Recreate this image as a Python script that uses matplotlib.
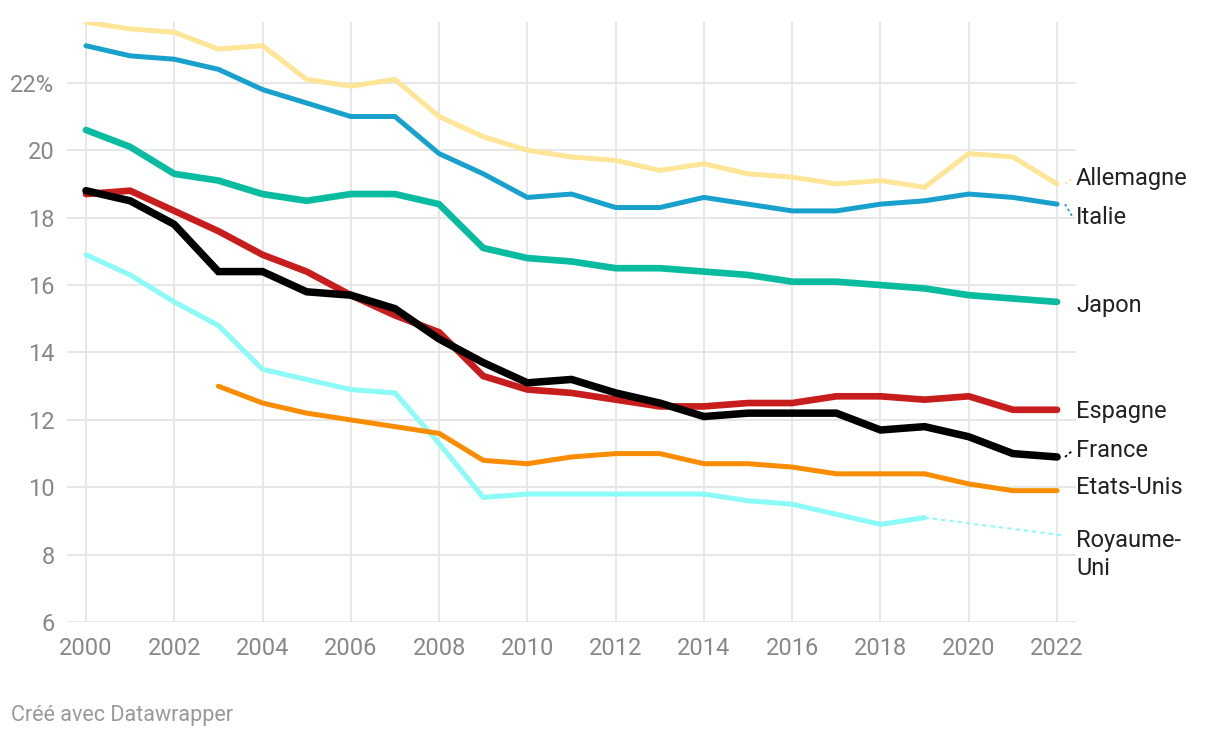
import numpy as np
import matplotlib
matplotlib.use("Agg")
import matplotlib.pyplot as plt

plt.rcParams['font.family'] = ['Roboto', 'DejaVu Sans']

years = list(range(2000, 2023))

allemagne = [23.8, 23.6, 23.5, 23.0, 23.1, 22.1, 21.9, 22.1, 21.0, 20.4, 20.0, 19.8,
             19.7, 19.4, 19.6, 19.3, 19.2, 19.0, 19.1, 18.9, 19.9, 19.8, 19.0]
italie = [23.1, 22.8, 22.7, 22.4, 21.8, 21.4, 21.0, 21.0, 19.9, 19.3, 18.6, 18.7,
          18.3, 18.3, 18.6, 18.4, 18.2, 18.2, 18.4, 18.5, 18.7, 18.6, 18.4]
japon = [20.6, 20.1, 19.3, 19.1, 18.7, 18.5, 18.7, 18.7, 18.4, 17.1, 16.8, 16.7,
         16.5, 16.5, 16.4, 16.3, 16.1, 16.1, 16.0, 15.9, 15.7, 15.6, 15.5]
espagne = [18.7, 18.8, 18.2, 17.6, 16.9, 16.4, 15.7, 15.1, 14.6, 13.3, 12.9, 12.8,
           12.6, 12.4, 12.4, 12.5, 12.5, 12.7, 12.7, 12.6, 12.7, 12.3, 12.3]
france = [18.8, 18.5, 17.8, 16.4, 16.4, 15.8, 15.7, 15.3, 14.4, 13.7, 13.1, 13.2,
          12.8, 12.5, 12.1, 12.2, 12.2, 12.2, 11.7, 11.8, 11.5, 11.0, 10.9]
us_years = list(range(2003, 2023))
etats_unis = [13.0, 12.5, 12.2, 12.0, 11.8, 11.6, 10.8, 10.7, 10.9, 11.0, 11.0,
              10.7, 10.7, 10.6, 10.4, 10.4, 10.4, 10.1, 9.9, 9.9]
uk_years = list(range(2000, 2020))
royaume_uni = [16.9, 16.3, 15.5, 14.8, 13.5, 13.2, 12.9, 12.8, 11.3, 9.7, 9.8, 9.8,
               9.8, 9.8, 9.8, 9.6, 9.5, 9.2, 8.9, 9.1]

# name, x, y, colour, width, label y (data units)
series = [
    ("Allemagne", years, allemagne, "#ffe597", 3.6, 19.17),
    ("Italie", years, italie, "#18a1cd", 3.6, 18.0),
    ("Japon", years, japon, "#09bb9f", 4.8, 15.4),
    ("Royaume-Uni", uk_years, royaume_uni, "#8cfaf7", 3.6, 8.0),
    ("Etats-Unis", us_years, etats_unis, "#fa8c00", 3.6, 9.98),
    ("Espagne", years, espagne, "#c71e1d", 4.8, 12.26),
    ("France", years, france, "#000000", 5.4, 11.1),
]

fs = 17

fig = plt.figure(figsize=(12.2, 7.38), dpi=100)
ax = fig.add_axes([0.0549, 0.157, 0.8271, 0.813])

ax.set_xlim(1999.57, 2022.43)
ax.set_ylim(6, 23.8)

for name, xs, ys, col, lw, ly in series:
    ax.plot(xs, ys, color=col, lw=lw, solid_capstyle='round',
            solid_joinstyle='miter', zorder=3)
    if name == "Royaume-Uni":
        ax.plot([xs[-1], 2022.1], [ys[-1], 8.58], color=col, lw=1.5,
                ls=(0, (2, 2)), clip_on=False, zorder=2)
        ax.text(2022.43, 8.43, "Royaume-", fontsize=fs, color="#222222",
                va='center', ha='left', clip_on=False)
        ax.text(2022.43, 7.6, "Uni", fontsize=fs, color="#222222",
                va='center', ha='left', clip_on=False)
    else:
        if abs(ly - ys[-1]) > 0.15:
            ax.plot([xs[-1] + 0.18, 2022.36], [ys[-1], ly], color=col, lw=1.3,
                    ls=(0, (1.5, 1.5)), clip_on=False, zorder=2)
        ax.text(2022.43, ly, name, fontsize=fs, color="#222222",
                va='center', ha='left', clip_on=False)

ax.set_xticks(range(2000, 2023, 2))
ax.set_yticks(range(6, 23, 2))
ax.set_yticklabels([str(v) for v in range(6, 22, 2)] + ["22%"])
ax.tick_params(axis='both', length=0, labelsize=fs, labelcolor="#888888")
ax.tick_params(axis='x', pad=11)
ax.tick_params(axis='y', pad=9)

ax.grid(True, color="#e5e5e5", lw=1.3, zorder=0)
for s in ax.spines.values():
    s.set_visible(False)

fig.text(0.009, 0.03, "Créé avec Datawrapper", fontsize=15.5, color="#999999",
         ha='left', va='center')

fig.savefig("out.png", dpi=100)
